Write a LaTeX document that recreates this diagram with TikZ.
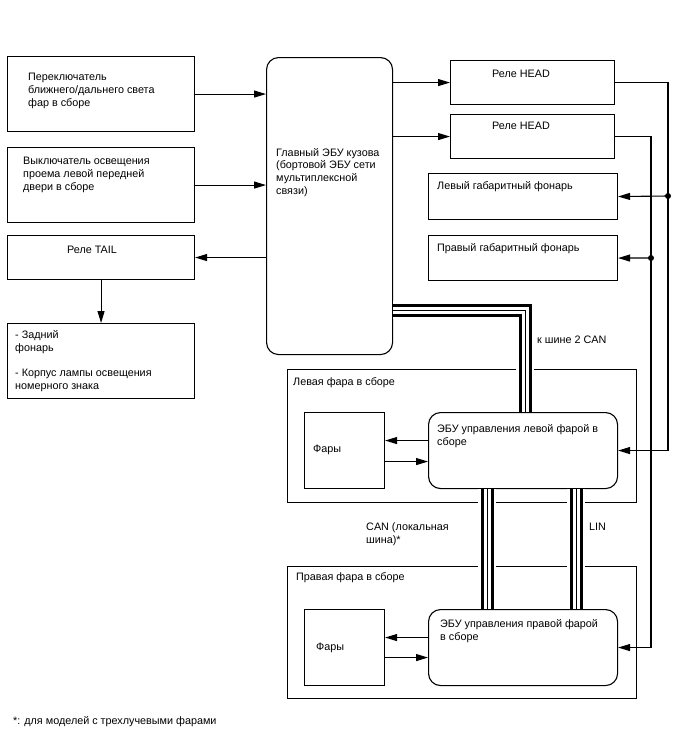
\documentclass[tikz,border=0pt]{standalone}
\usepackage{fontspec}
\setmainfont{Liberation Sans}
\usetikzlibrary{arrows.meta}
\tikzset{
  box/.style={draw, line width=1.1pt, anchor=north west, inner sep=0pt},
  ecubox/.style={box, rounded corners=12pt},
  txt/.style={anchor=base west, inner sep=0pt, align=left, font=\fontsize{10.8}{12.6}\selectfont},
  wire/.style={line width=1.1pt},
  arr/.style={wire, -{Triangle[length=12pt,width=7pt]}},
  bus/.style={line width=13pt, preaction={draw=white, line width=18pt},
    postaction={draw=white, line width=7pt}, postaction={draw=black, line width=1pt}}
}
\begin{document}
\begin{tikzpicture}[x=1pt, y=-1pt]
    \useasboundingbox (0,0) rectangle (688,755);

    \node[box, minimum width=187pt, minimum height=75pt] (sw1) at (7,56) {};
    \node[txt] (sw1t) at (28,106) {Переключатель\\ближнего/дальнего света\\фар в сборе};

    \node[box, minimum width=187pt, minimum height=75pt] (sw2) at (7,147) {};
    \node[txt] (sw2t) at (23,190) {Выключатель освещения\\проема левой передней\\двери в сборе};

    \node[box, minimum width=187pt, minimum height=44pt] (tail) at (7,235) {};
    \node[txt] (tailt) at (67,253) {Реле TAIL};

    \node[box, minimum width=187pt, minimum height=75pt] (rear) at (7,323) {};
    \node[txt] (reart) at (15,389) {- Задний\\фонарь\\[12.5pt]- Корпус лампы освещения\\номерного знака};

    \node[ecubox, minimum width=126pt, minimum height=297pt] (bcm) at (266,57) {};
    \node[txt] (bcmt) at (276,194) {Главный ЭБУ кузова\\(бортовой ЭБУ сети\\мультиплексной\\связи)};

    \node[box, minimum width=164pt, minimum height=44pt] (head1) at (450,60) {};
    \node[txt] (head1t) at (492,77) {Реле HEAD};
    \node[box, minimum width=164pt, minimum height=44pt] (head2) at (450,114) {};
    \node[txt] (head2t) at (492,129) {Реле HEAD};

    \node[box, minimum width=189pt, minimum height=46pt] (lclr) at (428,173) {};
    \node[txt] (lclrt) at (437,189) {Левый габаритный фонарь};
    \node[box, minimum width=189pt, minimum height=45pt] (rclr) at (428,235) {};
    \node[txt] (rclrt) at (437,251) {Правый габаритный фонарь};

    \node[box, minimum width=349pt, minimum height=133pt] (lframe) at (287,369) {};
    \node[txt] (lframet) at (293,385) {Левая фара в сборе};
    \node[box, minimum width=80pt, minimum height=76pt] (lhl) at (304,412) {};
    \node[txt] (lhlt) at (313,452) {Фары};
    \node[ecubox, minimum width=189pt, minimum height=76pt] (lecu) at (428,412) {};
    \node[txt] (lecut) at (437,445) {ЭБУ управления левой фарой в\\сборе};

    \node[box, minimum width=349pt, minimum height=132pt] (rframe) at (287,566) {};
    \node[txt] (rframet) at (296,580) {Правая фара в сборе};
    \node[box, minimum width=80pt, minimum height=76pt] (rhl) at (304,609) {};
    \node[txt] (rhlt) at (316,650) {Фары};
    \node[ecubox, minimum width=189pt, minimum height=76pt] (recu) at (428,609) {};
    \node[txt] (recut) at (440,640.5) {ЭБУ управления правой фарой\\в сборе};

    \node[txt] (can2t) at (537,343) {к шине 2 CAN};
    \node[txt] (canlt) at (366,543) {CAN (локальная\\шина)*};
    \node[txt] (lint) at (589,530) {LIN};
    \node[txt] (notet) at (13,724) {*: для моделей с трехлучевыми фарами};

    \draw[arr] (sw1.east) -- (sw1.east -| bcm.west);
    \draw[arr] (sw2.east) -- (sw2.east -| bcm.west);
    \draw[arr] (tail.east -| bcm.west) -- (tail.east);
    \draw[arr] (tail.south) -- (rear.north);
    \draw[arr] (head1.west -| bcm.east) -- (head1.west);
    \draw[arr] (head2.west -| bcm.east) -- (head2.west);

    \coordinate (jl) at (668,196);
    \coordinate (jr) at (651,258);
    \draw[arr] (head1.east) -| (jl) |- (lecu.east);
    \draw[arr] (jl) -- (lclr.east);
    \fill (jl) circle (3pt);
    \draw[arr] (head2.east) -| (jr) |- (recu.east);
    \draw[arr] (jr) -- (rclr.east);
    \fill (jr) circle (3pt);

    \draw[arr] ([yshift=10pt]lecu.west) -- ([yshift=10pt]lecu.west -| lhl.east);
    \draw[arr] ([yshift=-11pt]lhl.east) -- ([yshift=-11pt]lhl.east -| lecu.west);
    \draw[arr] ([yshift=10pt]recu.west) -- ([yshift=10pt]recu.west -| rhl.east);
    \draw[arr] ([yshift=-10pt]rhl.east) -- ([yshift=-10pt]rhl.east -| recu.west);

    \draw[bus] ([yshift=-104pt]bcm.east) -| ([xshift=2pt]lecu.north);
    \draw[bus] ([xshift=-36pt]lecu.south) -- ([xshift=-36pt]recu.north);
    \draw[bus] ([xshift=53pt]lecu.south) -- ([xshift=53pt]recu.north);
\end{tikzpicture}
\end{document}
